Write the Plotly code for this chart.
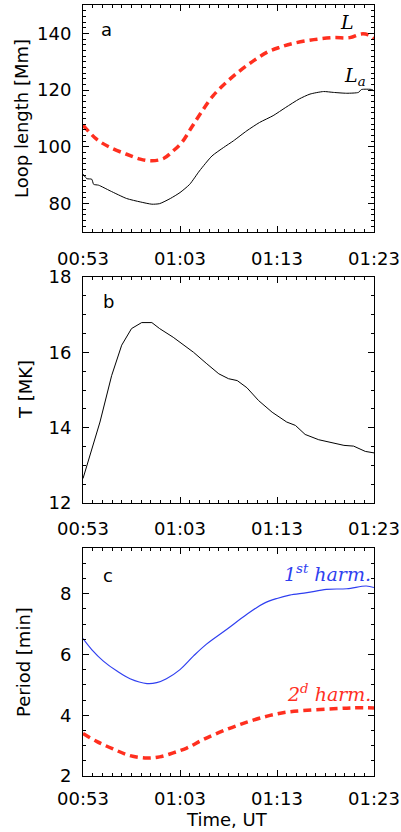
import plotly.graph_objects as go

# ---------------- data (time in minutes after 00:53 UT) ----------------
tick_minutes = [0, 10, 20, 30]
tick_labels = ["00:53", "01:03", "01:13", "01:23"]

# Panel a: loop lengths [Mm]
t_L = [0, 1.4, 2.8, 4.5, 5.9, 7.1, 8.3, 9.3, 10.2, 11.2, 12.2, 13.4, 14.8, 16.2,
       17.6, 19.0, 20.3, 21.7, 23.8, 25.8, 27.5, 28.7, 29.4, 30]
L_vals = [107.7, 102.7, 99.8, 97.4, 95.7, 95.1, 95.9, 98.6, 101.6, 106.9, 112.2, 118.0,
          122.8, 126.9, 130.4, 133.4, 135.1, 136.5, 137.8, 138.5, 138.5, 139.8, 139.5, 138.1]

t_La = [0, 0.4, 0.9, 1.1, 1.6, 2.8, 4.5, 5.9, 7.1, 7.9, 9.0, 10.0, 11.0, 12.0, 13.3,
        14.5, 15.5, 16.9, 18.2, 19.6, 20.9, 22.3, 23.4, 24.8, 25.8, 27.2, 28.4, 28.7,
        29.8, 30]
La_vals = [90.4, 88.8, 88.6, 86.8, 86.5, 84.5, 81.8, 80.6, 79.8, 80.0, 81.8, 83.9, 86.8,
           91.5, 96.8, 99.8, 102.1, 105.7, 108.6, 111.0, 113.9, 116.9, 118.6, 119.5,
           119.2, 118.9, 119.2, 120.2, 120.2, 119.7]

# Panel b: temperature [MK]
t_T = [0, 1.75, 2.95, 3.99, 5.0, 6.05, 7.1, 7.9, 9.3, 11.4, 12.7, 14.0, 15.0, 15.9,
       16.9, 18.1, 19.5, 21.0, 21.9, 22.9, 24.3, 25.8, 26.9, 27.9, 29.1, 30]
T_vals = [12.65, 14.15, 15.38, 16.19, 16.63, 16.79, 16.79, 16.63, 16.40, 16.0, 15.71,
          15.43, 15.30, 15.25, 15.06, 14.72, 14.41, 14.15, 14.06, 13.82, 13.68, 13.60,
          13.53, 13.51, 13.37, 13.33]

# Panel c: periods [min]
t_P1 = [0, 0.9, 2.1, 3.5, 4.85, 6.6, 7.6, 8.6, 10.0, 11.4, 12.7, 14.8, 16.9, 18.6,
        20.0, 21.3, 23.1, 25.1, 27.2, 29.2, 30]
P1_vals = [6.52, 6.16, 5.78, 5.45, 5.20, 5.04, 5.07, 5.20, 5.50, 5.95, 6.33, 6.82, 7.32,
           7.67, 7.84, 7.95, 8.03, 8.14, 8.16, 8.25, 8.20]

t_P2 = [0, 1.4, 3.1, 4.85, 6.6, 7.9, 9.3, 10.7, 12.4, 14.8, 16.9, 19.0, 21.0, 23.1,
        25.8, 27.9, 30]
P2_vals = [3.40, 3.14, 2.89, 2.67, 2.59, 2.63, 2.76, 2.92, 3.20, 3.53, 3.77, 3.97, 4.10,
           4.16, 4.21, 4.24, 4.24]

# ---------------- figure ----------------
W, H = 401, 832
RED = "#ff2f1f"
BLUE = "#2f3ff0"
SANS = "DejaVu Sans, sans-serif"
SERIF = "DejaVu Serif, Liberation Serif, serif"

fig = go.Figure()
fig.add_trace(go.Scatter(x=t_L, y=L_vals, mode="lines", line=dict(color=RED, width=3.5, dash="8px,5px", shape="spline"), xaxis="x", yaxis="y"))
fig.add_trace(go.Scatter(x=t_La, y=La_vals, mode="lines", line=dict(color="black", width=1.0, shape="spline", smoothing=0.6), xaxis="x", yaxis="y"))
fig.add_trace(go.Scatter(x=t_T, y=T_vals, mode="lines", line=dict(color="black", width=1.0), xaxis="x2", yaxis="y2"))
fig.add_trace(go.Scatter(x=t_P1, y=P1_vals, mode="lines", line=dict(color=BLUE, width=1.2, shape="spline"), xaxis="x3", yaxis="y3"))
fig.add_trace(go.Scatter(x=t_P2, y=P2_vals, mode="lines", line=dict(color=RED, width=3.5, dash="8px,5px", shape="spline"), xaxis="x3", yaxis="y3"))

xdom = [83 / W, 374 / W]
def ydom(top, bot):
    return [1 - bot / H, 1 - top / H]

tickfont = dict(family=SANS, size=18, color="black")

def xaxis(anchor, standoff):
    return dict(domain=xdom, anchor=anchor, range=[0, 30], tickvals=tick_minutes, ticktext=tick_labels,
                ticks="inside", ticklen=6, tickwidth=1, tickcolor="black",
                showline=True, linecolor="black", linewidth=1, mirror="allticks",
                showgrid=False, zeroline=False, tickfont=tickfont, ticklabelstandoff=standoff,
                minor=dict(dtick=1, tick0=0, ticks="inside", ticklen=3, tickcolor="black", showgrid=False),
                automargin=False, fixedrange=True)

def yaxis(anchor, dom, rng, major, minor):
    return dict(domain=dom, anchor=anchor, range=rng, dtick=major, tick0=0,
                ticks="inside", ticklen=6, tickwidth=1, tickcolor="black",
                showline=True, linecolor="black", linewidth=1, mirror="allticks",
                showgrid=False, zeroline=False, tickfont=tickfont, ticklabelstandoff=7,
                minor=dict(dtick=minor, tick0=0, ticks="inside", ticklen=3, tickcolor="black", showgrid=False),
                automargin=False, fixedrange=True)

fig.update_layout(
    width=W, height=H, margin=dict(l=0, r=0, t=0, b=0),
    paper_bgcolor="white", plot_bgcolor="white", showlegend=False,
    xaxis=xaxis("y", 10), yaxis=yaxis("x", ydom(5, 232), [70, 150], 20, 2),
    xaxis2=xaxis("y2", 9), yaxis2=yaxis("x2", ydom(277, 503), [12, 18], 2, 0.5),
    xaxis3=xaxis("y3", 6), yaxis3=yaxis("x3", ydom(548, 776), [2, 9.5], 2, 0.5),
)

def ann(text, x, y, font, angle=0, xanchor="center"):
    fig.add_annotation(text=text, x=x / W, y=1 - y / H, xref="paper", yref="paper",
                       showarrow=False, font=font, textangle=angle, xanchor=xanchor, yanchor="middle")

labfont = dict(family=SANS, size=18, color="black")
ann("Loop length [Mm]", 21, 119, labfont, -90)
ann("T [MK]", 25, 390, labfont, -90)
ann("Period [min]", 23, 662, labfont, -90)
ann("Time, UT", 227, 819, labfont)
ann("a", 107, 29, labfont)
ann("b", 108, 302, labfont)
ann("c", 108, 575, labfont)

ann("<i>L</i>", 347, 22, dict(family=SERIF, size=19, color="black"))
ann("<i>L<sub>a</sub></i>", 355, 77, dict(family=SERIF, size=19, color="black"))
ann("<i>1<sup>st</sup> harm.</i>", 373, 573, dict(family=SERIF, size=19, color=BLUE), xanchor="right")
ann("<i>2<sup>d</sup> harm.</i>", 373, 693, dict(family=SERIF, size=19, color=RED), xanchor="right")

fig.write_html("out.html")
